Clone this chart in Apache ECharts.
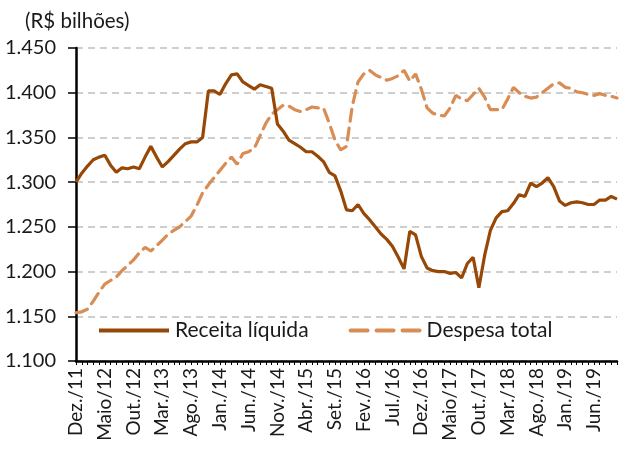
<!DOCTYPE html>
<html>
<head>
<meta charset="utf-8">
<script src="https://cdn.jsdelivr.net/npm/echarts@6/dist/echarts.min.js"></script>
<style>
  html, body { margin: 0; padding: 0; background: #fff; }
  #chart { width: 619px; height: 450px; }
</style>
</head>
<body>
<div id="chart"></div>
<script>
// Receita líquida x Despesa total (R$ bilhões), mensal Dez/11 – Out/19

const FONT = 'Lato, "Open Sans", sans-serif';

const monthNames = ['Jan.', 'Fev.', 'Mar.', 'Abr.', 'Maio', 'Jun.', 'Jul.', 'Ago.', 'Set.', 'Out.', 'Nov.', 'Dez.'];
const firstYear = 11;
const firstMonth = 11; // dezembro
const monthCount = 95;

const months = [];
for (let k = 0; k < monthCount; k++) {
  const m = (firstMonth + k) % 12;
  const y = firstYear + Math.floor((firstMonth + k) / 12);
  months.push(`${monthNames[m]}/${y}`);
}

const receita = [
  1300, 1310, 1318, 1325, 1328, 1330, 1319, 1311, 1316, 1315,
  1317, 1315, 1328, 1340, 1328, 1317, 1323, 1330, 1337, 1343,
  1345, 1345, 1350, 1402, 1402, 1398, 1410, 1420, 1421, 1412,
  1408, 1404, 1409, 1407, 1405, 1365, 1357, 1347, 1343, 1339,
  1334, 1334, 1329, 1323, 1311, 1307, 1290, 1269, 1268, 1275,
  1265, 1258, 1250, 1242, 1236, 1228, 1216, 1203, 1245, 1241,
  1217, 1204, 1201, 1200, 1200, 1198, 1199, 1193, 1209, 1216,
  1182, 1218, 1246, 1260, 1267, 1268, 1276, 1286, 1284, 1299,
  1295, 1299, 1305, 1295, 1279, 1274, 1277, 1278, 1277, 1275,
  1275, 1280, 1280, 1284, 1281,
];

const despesa = [
  1154, 1155, 1158, 1167, 1177, 1186, 1190, 1194, 1201, 1207,
  1213, 1221, 1227, 1223, 1229, 1235, 1242, 1246, 1250, 1256,
  1262, 1274, 1288, 1297, 1305, 1313, 1321, 1328, 1320, 1332,
  1334, 1338, 1352, 1366, 1376, 1381, 1386, 1385, 1381, 1379,
  1381, 1384, 1383, 1383, 1366, 1347, 1336, 1340, 1385, 1412,
  1421, 1425, 1420, 1417, 1414, 1416, 1419, 1425, 1413, 1421,
  1404, 1383, 1377, 1375, 1374, 1383, 1397, 1393, 1391, 1398,
  1405, 1395, 1381, 1381, 1381, 1393, 1406, 1400, 1396, 1394,
  1395, 1400, 1405, 1410, 1411, 1406, 1405, 1401, 1400, 1398,
  1397, 1399, 1397, 1396, 1394,
];

const receitaColor = '#974706';
const despesaColor = '#d88d55';

const chart = echarts.init(document.getElementById('chart'));

chart.setOption({
  animation: false,
  textStyle: { fontFamily: FONT },
  title: {
    text: '(R$ bilhões)',
    left: 20,
    top: 6,
    textStyle: { fontSize: 20.5, fontWeight: 'normal', color: '#1a1a1a', fontFamily: FONT },
  },
  grid: { left: 76, right: 2, top: 48, bottom: 89 },
  legend: {
    left: 92,
    top: 315,
    itemWidth: 70,
    itemHeight: 12,
    itemGap: 40,
    itemStyle: { opacity: 0 },
    textStyle: { fontSize: 21, color: '#1a1a1a', fontFamily: FONT, padding: [0, 0, 0, 1] },
    data: [
      { name: 'Receita líquida', lineStyle: { width: 4 } },
      { name: 'Despesa total', lineStyle: { width: 4, type: [17, 9] } },
    ],
  },
  xAxis: {
    type: 'category',
    data: months,
    boundaryGap: false,
    axisLine: { lineStyle: { color: '#000', width: 2.5 } },
    axisTick: { show: true, interval: 0, length: 4, lineStyle: { color: '#000', width: 1 } },
    axisLabel: {
      interval: 4,
      rotate: 90,
      margin: 7,
      fontSize: 19,
      color: '#1a1a1a',
      fontFamily: FONT,
    },
    splitLine: { show: false },
  },
  yAxis: {
    type: 'value',
    min: 1100,
    max: 1450,
    interval: 50,
    axisLine: { show: true, lineStyle: { color: '#000', width: 2.5 } },
    axisTick: { show: true, length: 8, lineStyle: { color: '#000', width: 1.5 } },
    axisLabel: {
      margin: 20,
      fontSize: 20,
      color: '#1a1a1a',
      fontFamily: FONT,
      formatter: v => (v / 1000).toFixed(3),
    },
    splitLine: { lineStyle: { color: '#bfbfbf', width: 1.5, type: [7, 5] } },
  },
  series: [
    {
      name: 'Receita líquida',
      type: 'line',
      data: receita,
      symbol: 'none',
      color: receitaColor,
      lineStyle: { color: receitaColor, width: 3.2 },
      z: 3,
    },
    {
      name: 'Despesa total',
      type: 'line',
      data: despesa,
      symbol: 'none',
      color: despesaColor,
      lineStyle: { color: despesaColor, width: 3.2, type: [12, 7], cap: 'round' },
      z: 2,
    },
  ],
});
</script>
</body>
</html>
